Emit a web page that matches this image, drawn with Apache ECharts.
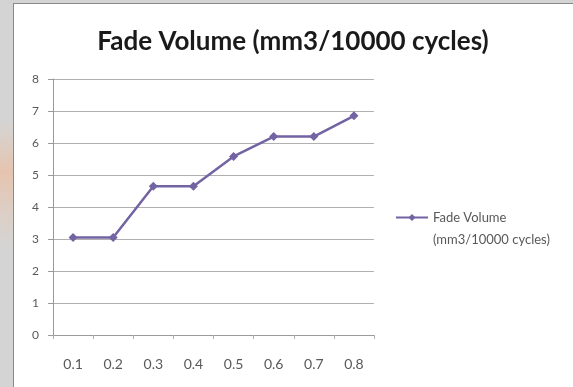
<!DOCTYPE html>
<html>
<head>
<meta charset="utf-8">
<script src="https://cdn.jsdelivr.net/npm/echarts@6/dist/echarts.min.js"></script>
<style>
  html, body { margin: 0; padding: 0; background: #ffffff; }
  #chart { width: 573px; height: 387px; }
</style>
</head>
<body>
<div id="chart"></div>
<script>
// Fade volume per test setting
const categories = ['0.1', '0.2', '0.3', '0.4', '0.5', '0.6', '0.7', '0.8'];
const fadeVolume = [3.05, 3.05, 4.65, 4.65, 5.58, 6.2, 6.2, 6.85];
const seriesName = 'Fade Volume (mm3/10000 cycles)';
const legendLines = ['Fade Volume', '(mm3/10000 cycles)'];
const titleText = 'Fade Volume (mm3/10000 cycles)';

const chart = echarts.init(document.getElementById('chart'), null, { renderer: 'canvas' });

const lineColor = '#7363a3';

chart.setOption({
  animation: false,
  backgroundColor: '#ffffff',
  graphic: [
    // page margin strips around the chart frame
    { type: 'rect', left: 0, top: 0, shape: { width: 13, height: 387 }, style: { fill: '#d4d4d4' }, silent: true },
    { type: 'rect', left: 0, top: 120, shape: { width: 13, height: 130 },
      style: { fill: new echarts.graphic.LinearGradient(0, 0, 0, 1, [
        { offset: 0, color: 'rgba(240,190,160,0.0)' },
        { offset: 0.4, color: 'rgba(240,185,150,0.6)' },
        { offset: 1, color: 'rgba(240,200,170,0.0)' }
      ]) }, silent: true },
    { type: 'rect', left: 0, top: 0, shape: { width: 573, height: 3 }, style: { fill: '#d4d4d4' }, silent: true },
    { type: 'line', shape: { x1: 13.5, y1: 3, x2: 13.5, y2: 387 }, style: { stroke: '#8a8a8a', lineWidth: 1 }, silent: true },
    { type: 'line', shape: { x1: 13, y1: 3.5, x2: 573, y2: 3.5 }, style: { stroke: '#8a8a8a', lineWidth: 1 }, silent: true }
  ],
  title: {
    text: titleText,
    left: 288,
    textAlign: 'center',
    top: 24,
    textStyle: {
      fontFamily: 'Lato',
      fontWeight: 'bold',
      fontSize: 26,
      color: '#1a1a1a'
    }
  },
  legend: {
    left: 395,
    top: 189,
    padding: 0,
    orient: 'vertical',
    itemWidth: 32,
    itemHeight: 9,
    data: [seriesName],
    // blank spacer line keeps the first text line level with the legend icon
    formatter: function () {
      return '{s| }\n{t|' + legendLines[0] + '}\n{t|' + legendLines[1] + '}';
    },
    textStyle: {
      fontFamily: 'Lato',
      fontSize: 13,
      color: '#595959',
      rich: {
        s: { height: 22, fontSize: 13 },
        t: { height: 22, fontSize: 13, fontFamily: 'Lato', color: '#595959' }
      }
    }
  },
  grid: {
    left: 53,
    top: 79,
    width: 321,
    height: 256
  },
  xAxis: {
    type: 'category',
    data: categories,
    boundaryGap: true,
    axisLine: { lineStyle: { color: '#9a9a9a', width: 1 } },
    axisTick: { show: true, length: 4, lineStyle: { color: '#b0b0b0' } },
    axisLabel: {
      margin: 22,
      fontFamily: 'Lato',
      fontSize: 14,
      color: '#595959'
    },
    splitLine: { show: false }
  },
  yAxis: {
    type: 'value',
    min: 0,
    max: 8,
    interval: 1,
    axisLine: { show: true, lineStyle: { color: '#9a9a9a', width: 1 } },
    axisTick: { show: true, length: 5, lineStyle: { color: '#9a9a9a' } },
    axisLabel: {
      margin: 14,
      fontFamily: 'Lato',
      fontSize: 12,
      color: '#595959'
    },
    splitLine: { show: true, lineStyle: { color: '#b0b0b0', width: 1 } }
  },
  series: [{
    name: seriesName,
    type: 'line',
    data: fadeVolume,
    symbol: 'diamond',
    symbolSize: 9,
    lineStyle: { color: lineColor, width: 2.5 },
    itemStyle: { color: lineColor }
  }]
});
</script>
</body>
</html>
